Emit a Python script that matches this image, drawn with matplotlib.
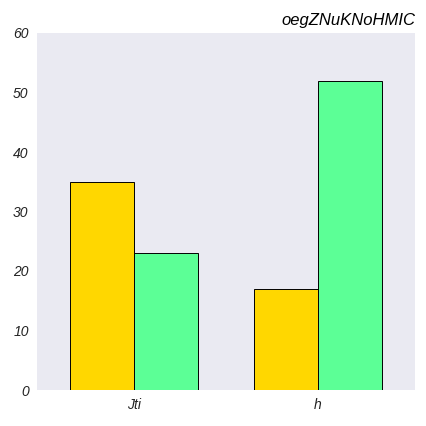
import matplotlib
matplotlib.use("Agg")
import matplotlib.pyplot as plt
import numpy as np

categories = ["Jti", "h"]
series_a = [35, 17]
series_b = [23, 52]

plt.rcParams['font.family'] = ['Liberation Sans', 'DejaVu Sans']
fig = plt.figure(figsize=(4.26, 4.26), dpi=100)
ax = fig.add_axes([37/426, 36/426, 378/426, 357/426])
ax.set_facecolor('#EAEAF2')
x = np.arange(len(categories))
w = 0.35
ax.bar(x - w/2, series_a, w, color='#FFD700', edgecolor='black', linewidth=0.7)
ax.bar(x + w/2, series_b, w, color='#5CFF96', edgecolor='black', linewidth=0.7)
ax.set_xlim(-0.527, 1.527)
ax.set_ylim(0, 60)
ax.set_yticks(range(0, 61, 10))
ax.set_xticks(x)
ax.set_xticklabels(categories)
for lab in ax.get_xticklabels() + ax.get_yticklabels():
    lab.set_fontstyle('italic')
    lab.set_fontsize(10)
    lab.set_color('#222222')
ax.tick_params(length=0, pad=6)
for s in ax.spines.values():
    s.set_visible(False)
ax.set_title("oegZNuKNoHMIC", loc='right', fontstyle='italic', fontsize=12, pad=6)
fig.savefig("out.png", dpi=100)
